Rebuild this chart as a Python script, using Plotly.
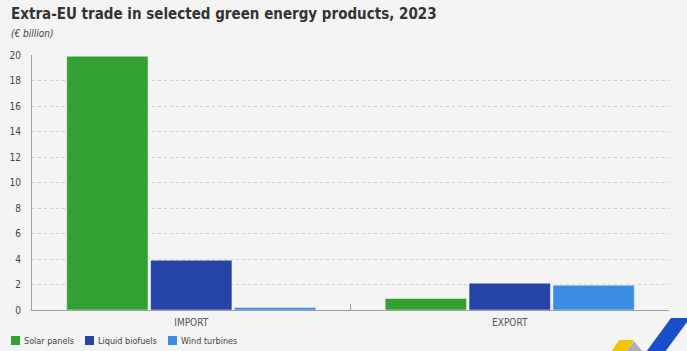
import plotly.graph_objects as go

categories = ["IMPORT", "EXPORT"]
series_names = ["Solar panels", "Liquid biofuels", "Wind turbines"]
solar_panels = [19.9, 0.9]
liquid_biofuels = [3.9, 2.1]
wind_turbines = [0.2, 1.95]
y_ticks = [0, 2, 4, 6, 8, 10, 12, 14, 16, 18, 20]

colors = ["#33A033", "#2644A7", "#3A8DE2"]
values = [solar_panels, liquid_biofuels, wind_turbines]

W, H = 687, 351
ML, MR, MT, MB = 32, 18, 55, 41
PW, PH = W - ML - MR, H - MT - MB

def px(x):
    return (x - ML) / PW

def py(y):
    return (H - MB - y) / PH

FONT = "DejaVu Sans Condensed, Liberation Sans Narrow, sans-serif"

fig = go.Figure()
for name, vals, col in zip(series_names, values, colors):
    fig.add_trace(go.Bar(
        x=categories, y=vals, name=name,
        marker=dict(color=col, line=dict(color="rgba(255,255,255,0.45)", width=1)),
        hovertemplate="%{x}<br>" + name + ": %{y}<extra></extra>",
    ))

shapes = [
    dict(type="path", xref="paper", yref="paper",
         path=f"M {px(646)} {py(352)} L {px(671)} {py(318)} L {px(690)} {py(318)} L {px(665)} {py(352)} Z",
         fillcolor="#1A4FC9", line=dict(width=0), layer="above"),
    dict(type="path", xref="paper", yref="paper",
         path=f"M {px(611)} {py(352)} L {px(619)} {py(340)} L {px(634)} {py(340)} L {px(626)} {py(352)} Z",
         fillcolor="#F5C400", line=dict(width=0), layer="above"),
    dict(type="path", xref="paper", yref="paper",
         path=f"M {px(626)} {py(352)} L {px(634)} {py(341)} L {px(643)} {py(352)} Z",
         fillcolor="#B0B0B0", line=dict(width=0), layer="above"),
]

annotations = [
    dict(text="<b>Extra-EU trade in selected green energy products, 2023</b>",
         xref="paper", yref="paper", x=px(9), y=py(14), xanchor="left", yanchor="middle",
         showarrow=False, font=dict(family=FONT, size=15, color="#333333")),
    dict(text="<i>(€ billion)</i>",
         xref="paper", yref="paper", x=px(9), y=py(33), xanchor="left", yanchor="middle",
         showarrow=False, font=dict(family=FONT, size=10, color="#444444")),
]

# compact legend (swatch + label) below the chart
legend_x = [11, 85, 168]
for lx, name, col in zip(legend_x, series_names, colors):
    shapes.append(dict(type="rect", xref="paper", yref="paper",
                       x0=px(lx), x1=px(lx + 9), y0=py(345), y1=py(336),
                       fillcolor=col, line=dict(width=0)))
    annotations.append(dict(text=name, xref="paper", yref="paper",
                            x=px(lx + 11), y=py(340.5), xanchor="left", yanchor="middle",
                            showarrow=False, font=dict(family=FONT, size=9, color="#444444")))

fig.update_layout(
    width=W, height=H,
    margin=dict(l=ML, r=MR, t=MT, b=MB),
    paper_bgcolor="#F4F4F4", plot_bgcolor="#F4F4F4",
    barmode="group", bargap=0.21, bargroupgap=0.03,
    font=dict(family=FONT, size=10, color="#444444"),
    showlegend=False,
    annotations=annotations,
    shapes=shapes,
    xaxis=dict(showline=True, linecolor="#A0A0A0", linewidth=1, automargin=False,
               ticks="inside", tickson="boundaries", ticklen=6, tickcolor="#A0A0A0",
               ticklabelstandoff=3,
               showgrid=False, tickfont=dict(family=FONT, size=10, color="#555555")),
    yaxis=dict(range=[0, 20], tickvals=y_ticks, showline=True, linecolor="#A0A0A0", linewidth=1,
               automargin=False,
               showgrid=True, gridcolor="#D0D0D0", griddash="dot", gridwidth=1,
               zeroline=False, ticks="", ticklabelstandoff=8,
               tickfont=dict(family=FONT, size=10, color="#444444")),
)

fig.write_html("out.html")
